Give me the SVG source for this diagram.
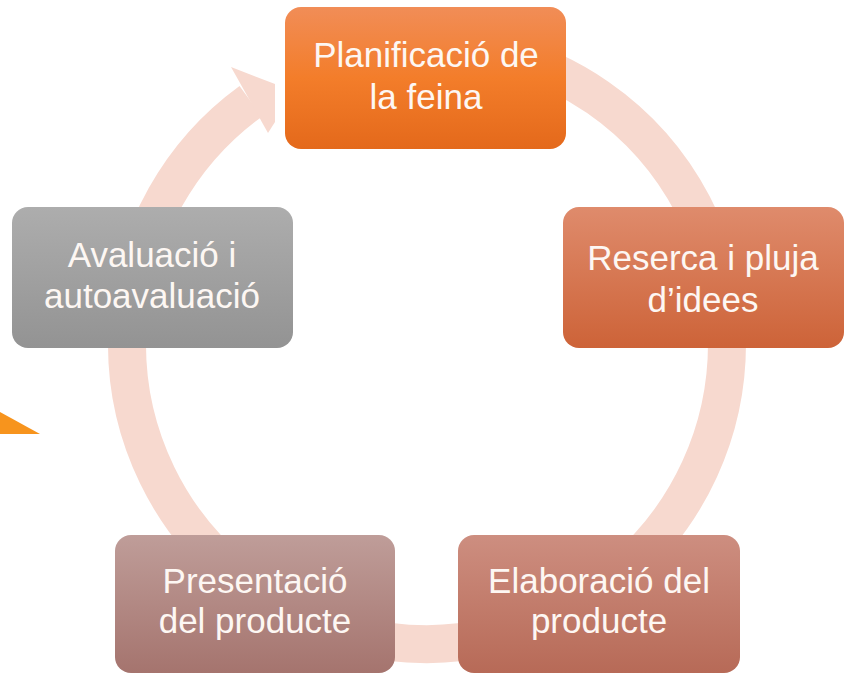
<svg xmlns="http://www.w3.org/2000/svg" width="850" height="673" viewBox="0 0 850 673">
  <defs>
    <linearGradient id="gTop" x1="0" y1="0" x2="0" y2="1">
      <stop offset="0" stop-color="#F18D57"/>
      <stop offset="0.5" stop-color="#F37D2A"/>
      <stop offset="1" stop-color="#E4691B"/>
    </linearGradient>
    <linearGradient id="gRight" x1="0" y1="0" x2="0" y2="1">
      <stop offset="0" stop-color="#DF8B6C"/>
      <stop offset="1" stop-color="#CD6338"/>
    </linearGradient>
    <linearGradient id="gBR" x1="0" y1="0" x2="0" y2="1">
      <stop offset="0" stop-color="#CD8E80"/>
      <stop offset="1" stop-color="#B76A57"/>
    </linearGradient>
    <linearGradient id="gBL" x1="0" y1="0" x2="0" y2="1">
      <stop offset="0" stop-color="#BF9D99"/>
      <stop offset="1" stop-color="#A5746E"/>
    </linearGradient>
    <linearGradient id="gLeft" x1="0" y1="0" x2="0" y2="1">
      <stop offset="0" stop-color="#ADADAD"/>
      <stop offset="1" stop-color="#939393"/>
    </linearGradient>
  </defs>
  <style>
    .ring { fill: none; stroke: #F7D9CF; stroke-width: 38; }
    .head { fill: #F7D9CF; }
    .box { stroke: none; }
    .lbl { font-family: "Liberation Sans", Arial, sans-serif; font-size: 35px; fill: #FDF7F3; text-anchor: middle; }
  </style>
  <rect width="850" height="673" fill="#FFFFFF"/>
  <polygon points="0,412 40,434 0,434" fill="#F7941D"/>
  <g id="connectors">
    <path class="ring" d="M 479.1 48.6 A 300 300 0 1 1 250.7 101.3"/>
    <polygon class="head" points="231,67 275,84 275,122 268,133"/>
  </g>
  <g id="n1">
    <rect class="box" x="285" y="7" width="281" height="142" rx="16" fill="url(#gTop)"/>
    <text class="lbl" x="426" y="67">Planificació de</text>
    <text class="lbl" x="426" y="109">la feina</text>
  </g>
  <g id="n2">
    <rect class="box" x="563" y="207" width="281" height="141" rx="16" fill="url(#gRight)"/>
    <text class="lbl" x="703" y="270">Reserca i pluja</text>
    <text class="lbl" x="703" y="312">d’idees</text>
  </g>
  <g id="n3">
    <rect class="box" x="458" y="535" width="282" height="138" rx="16" fill="url(#gBR)"/>
    <text class="lbl" x="599" y="593">Elaboració del</text>
    <text class="lbl" x="599" y="633">producte</text>
  </g>
  <g id="n4">
    <rect class="box" x="115" y="535" width="280" height="138" rx="16" fill="url(#gBL)"/>
    <text class="lbl" x="255" y="593">Presentació</text>
    <text class="lbl" x="255" y="633">del producte</text>
  </g>
  <g id="n5">
    <rect class="box" x="12" y="207" width="281" height="141" rx="16" fill="url(#gLeft)"/>
    <text class="lbl" x="152" y="267">Avaluació i</text>
    <text class="lbl" x="152" y="308">autoavaluació</text>
  </g>
</svg>
